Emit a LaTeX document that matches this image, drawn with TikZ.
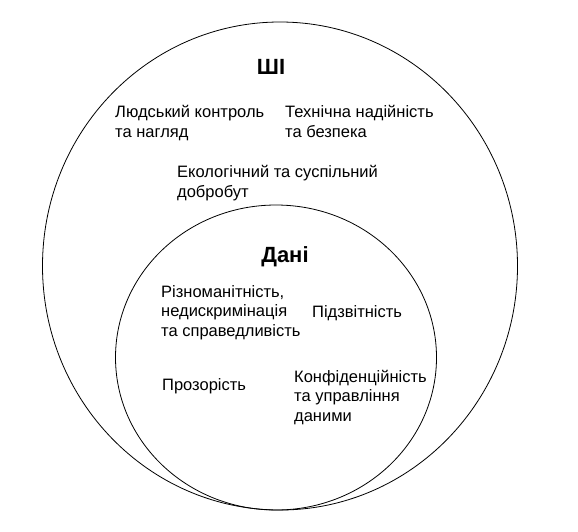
\documentclass[tikz,border=0pt]{standalone}
\usepackage{fontspec}
\setmainfont{Liberation Sans}
\usetikzlibrary{shapes, positioning}
\tikzset{
  ringnode/.style={draw, ellipse, line width=0.8pt, inner sep=0pt},
  titlenode/.style={font=\fontsize{22}{25}\selectfont\bfseries, inner sep=0pt, anchor=base},
  valuenode/.style={font=\fontsize{16.5}{19.5}\selectfont, align=left, inner sep=0pt, anchor=base west}
}
\begin{document}
\begin{tikzpicture}[x=1pt, y=-1pt]
\useasboundingbox (0,0) rectangle (578,531);

% Rings
\node[ringnode, minimum width=475pt, minimum height=488pt] (AI) at (280,266) {};
\node[ringnode, minimum width=321pt, minimum height=305pt] (Data) at (276,357.5) {};

% Titles
\node[titlenode] (AItitle) at (271,74) {ШІ};
\node[titlenode] (Datatitle) at (285,262) {Дані};

% Values of AI (placed at the base of the last line)
\node[valuenode] (Human) at (115,137) {Людський контроль\\та нагляд};
\node[valuenode] (Tech) at (285,137) {Технічна надійність\\та безпека};
\node[valuenode] (Eco) at (177,197) {Екологічний та суспільний\\добробут};

% Values of data
\node[valuenode] (Diverse) at (161,336) {Різноманітність,\\недискримінація\\та справедливість};
\node[valuenode] (Account) at (312,317) {Підзвітність};
\node[valuenode] (Transp) at (162,390) {Прозорість};
\node[valuenode] (Privacy) at (294,421) {Конфіденційність\\та управління\\даними};

\end{tikzpicture}
\end{document}
